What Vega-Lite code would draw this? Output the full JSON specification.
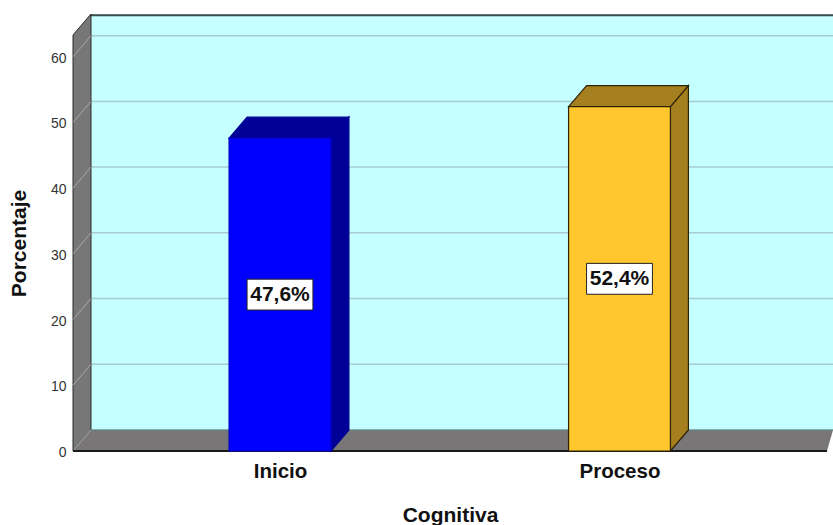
{
"$schema":"https://vega.github.io/schema/vega-lite/v6.json",
"width":760,"height":437,"autosize":{"type":"none"},
"padding":{"left":73,"top":14,"right":0,"bottom":74},
"background":"#ffffff",
"config":{"view":{"stroke":null},"font":"Liberation Sans","axis":{"grid":false,"domain":false,"ticks":false}},
"resolve":{"scale":{"fill":"independent","stroke":"independent"}},
"data":{"name":"barras"},
"datasets":{
"barras":[{"nivel":"Inicio","pos":1,"porcentaje":47.6},{"nivel":"Proceso","pos":2,"porcentaje":52.4}],
"marcas":[{"tick":0},{"tick":10},{"tick":20},{"tick":30},{"tick":40},{"tick":50},{"tick":60}],
"fondo":[{"t":0},{"t":1}],
"marco":[{"t":0}]
},
"layer":[
{"data":{"name":"marco"},
 "transform":[{"calculate":"0.4433","as":"x0"},{"calculate":"2.6289","as":"x1"},{"calculate":"3.2","as":"y0"},{"calculate":"66.5","as":"y1"}],
 "mark":{"type":"rect","fill":"#C6FFFF"},
 "encoding":{
  "x":{"field":"x0","type":"quantitative","scale":{"domain":[0.3903,2.6289]},
   "axis":{"values":[1,2],"labelExpr":"datum.value==1?'Inicio':'Proceso'","labelFont":"Liberation Sans","labelFontSize":20.5,"labelFontWeight":"bold","labelColor":"#111111","labelPadding":10,"labelBaseline":"top","title":"Cognitiva","titleFont":"Liberation Sans","titleFontSize":21,"titleFontWeight":"bold","titleColor":"#111111","titleX":377,"titleY":64,"titleBaseline":"middle"}},
  "x2":{"field":"x1"},
  "y":{"field":"y0","type":"quantitative","scale":{"domain":[0,66.5]},
   "axis":{"values":[0,10,20,30,40,50,60],"labelFont":"Liberation Sans","labelFontSize":14,"labelColor":"#333333","labelPadding":7,"labelOffset":1.5,"title":"Porcentaje","titleFont":"Liberation Sans","titleFontSize":21,"titleFontWeight":"bold","titleColor":"#111111","titleX":-54,"titleY":229,"titleBaseline":"middle"}},
  "y2":{"field":"y1"}
 }},
{"data":{"name":"marcas"},
 "transform":[{"calculate":"datum.tick+3.2","as":"yFondo"},{"calculate":"0.4433","as":"x0"},{"calculate":"2.6289","as":"x1"}],
 "mark":{"type":"rule","color":"#A9CDCF","strokeWidth":1.5},
 "encoding":{
  "x":{"field":"x0","type":"quantitative","scale":{"domain":[0.3903,2.6289]}},
  "x2":{"field":"x1"},
  "y":{"field":"yFondo","type":"quantitative","scale":{"domain":[0,66.5]}}
 }},
{"data":{"name":"marco"},
 "transform":[{"calculate":"0.4433","as":"x0"},{"calculate":"2.6289","as":"x1"},{"calculate":"66.3","as":"y0"}],
 "mark":{"type":"rule","color":"#3F4A4C","strokeWidth":2},
 "encoding":{
  "x":{"field":"x0","type":"quantitative","scale":{"domain":[0.3903,2.6289]}},
  "x2":{"field":"x1"},
  "y":{"field":"y0","type":"quantitative","scale":{"domain":[0,66.5]}}
 }},
{"data":{"name":"fondo"},
 "transform":[{"calculate":"0.3903+0.053*datum.t","as":"xp"},{"calculate":"3.2*datum.t","as":"y0"},{"calculate":"63.3+3.2*datum.t","as":"y1"}],
 "mark":{"type":"area","fill":"#777777","stroke":"#2B2B2B","strokeWidth":1,"orient":"vertical"},
 "encoding":{
  "x":{"field":"xp","type":"quantitative","scale":{"domain":[0.3903,2.6289]}},
  "y":{"field":"y0","type":"quantitative","scale":{"domain":[0,66.5]}},
  "y2":{"field":"y1"}
 }},
{"data":{"name":"fondo"},
 "transform":[{"calculate":"3.2*datum.t","as":"yp"},{"calculate":"0.3903+0.053*datum.t","as":"x0"},{"calculate":"2.6112+0.0177*datum.t","as":"x1"}],
 "mark":{"type":"area","fill":"#787676","orient":"horizontal"},
 "encoding":{
  "y":{"field":"yp","type":"quantitative","scale":{"domain":[0,66.5]}},
  "x":{"field":"x0","type":"quantitative","scale":{"domain":[0.3903,2.6289]}},
  "x2":{"field":"x1"}
 }},
{"data":{"name":"marcas"},
 "transform":[{"calculate":"[0,1]","as":"t"},{"flatten":["t"]},{"calculate":"0.3903+0.053*datum.t","as":"xp"},{"calculate":"datum.tick+3.2*datum.t","as":"yp"}],
 "mark":{"type":"line","color":"#A9A9A9","strokeWidth":1},
 "encoding":{
  "x":{"field":"xp","type":"quantitative","scale":{"domain":[0.3903,2.6289]}},
  "y":{"field":"yp","type":"quantitative","scale":{"domain":[0,66.5]}},
  "detail":{"field":"tick","type":"nominal"}
 }},
{"data":{"name":"marco"},
 "transform":[{"calculate":"0.4433","as":"x0"},{"calculate":"2.6289","as":"x1"},{"calculate":"3.2","as":"y0"}],
 "mark":{"type":"rule","color":"#5E8A8C","strokeWidth":1},
 "encoding":{
  "x":{"field":"x0","type":"quantitative","scale":{"domain":[0.3903,2.6289]}},
  "x2":{"field":"x1"},
  "y":{"field":"y0","type":"quantitative","scale":{"domain":[0,66.5]}}
 }},
{"data":{"name":"marco"},
 "transform":[{"calculate":"0.3903","as":"x0"},{"calculate":"2.6112","as":"x1"},{"calculate":"0","as":"y0"}],
 "mark":{"type":"rule","color":"#1A1A1A","strokeWidth":2},
 "encoding":{
  "x":{"field":"x0","type":"quantitative","scale":{"domain":[0.3903,2.6289]}},
  "x2":{"field":"x1"},
  "y":{"field":"y0","type":"quantitative","scale":{"domain":[0,66.5]}}
 }},
{"data":{"name":"barras"},
 "transform":[{"calculate":"[0,1]","as":"t"},{"flatten":["t"]},{"calculate":"datum.pos+0.15+0.053*datum.t","as":"xp"},{"calculate":"3.2*datum.t","as":"y0"},{"calculate":"datum.porcentaje+3.2*datum.t","as":"y1"}],
 "mark":{"type":"area","strokeWidth":1.2,"orient":"vertical"},
 "encoding":{
  "x":{"field":"xp","type":"quantitative","scale":{"domain":[0.3903,2.6289]}},
  "y":{"field":"y0","type":"quantitative","scale":{"domain":[0,66.5]}},
  "y2":{"field":"y1"},
  "fill":{"field":"nivel","type":"nominal","scale":{"domain":["Inicio","Proceso"],"range":["#000096","#A67F1E"]},"legend":null},
  "stroke":{"field":"nivel","type":"nominal","scale":{"domain":["Inicio","Proceso"],"range":["#000096","#2E2206"]},"legend":null}
 }},
{"data":{"name":"barras"},
 "transform":[{"calculate":"[0,1]","as":"t"},{"flatten":["t"]},{"calculate":"datum.porcentaje+3.2*datum.t","as":"yp"},{"calculate":"datum.pos-0.15+0.053*datum.t","as":"x0"},{"calculate":"datum.pos+0.15+0.053*datum.t","as":"x1"}],
 "mark":{"type":"area","strokeWidth":1.2,"orient":"horizontal"},
 "encoding":{
  "y":{"field":"yp","type":"quantitative","scale":{"domain":[0,66.5]}},
  "x":{"field":"x0","type":"quantitative","scale":{"domain":[0.3903,2.6289]}},
  "x2":{"field":"x1"},
  "fill":{"field":"nivel","type":"nominal","scale":{"domain":["Inicio","Proceso"],"range":["#000096","#A67F1E"]},"legend":null},
  "stroke":{"field":"nivel","type":"nominal","scale":{"domain":["Inicio","Proceso"],"range":["#000096","#2E2206"]},"legend":null}
 }},
{"data":{"name":"barras"},
 "transform":[{"calculate":"datum.pos-0.15","as":"x0"},{"calculate":"datum.pos+0.15","as":"x1"},{"calculate":"0","as":"y0"}],
 "mark":{"type":"rect","strokeWidth":1.2},
 "encoding":{
  "x":{"field":"x0","type":"quantitative","scale":{"domain":[0.3903,2.6289]}},
  "x2":{"field":"x1"},
  "y":{"field":"y0","type":"quantitative","scale":{"domain":[0,66.5]}},
  "y2":{"field":"porcentaje"},
  "fill":{"field":"nivel","type":"nominal","scale":{"domain":["Inicio","Proceso"],"range":["#0000FF","#FFC62E"]},"legend":null},
  "stroke":{"field":"nivel","type":"nominal","scale":{"domain":["Inicio","Proceso"],"range":["#0000C8","#2E2206"]},"legend":null}
 }},
{"data":{"name":"barras"},
 "transform":[{"calculate":"datum.pos-0.097","as":"x0"},{"calculate":"datum.pos+0.097","as":"x1"},{"calculate":"datum.porcentaje/2-2.35","as":"y0"},{"calculate":"datum.porcentaje/2+2.35","as":"y1"}],
 "mark":{"type":"rect","fill":"#FFFFFF","stroke":"#222222","strokeWidth":1},
 "encoding":{
  "x":{"field":"x0","type":"quantitative","scale":{"domain":[0.3903,2.6289]}},
  "x2":{"field":"x1"},
  "y":{"field":"y0","type":"quantitative","scale":{"domain":[0,66.5]}},
  "y2":{"field":"y1"}
 }},
{"data":{"name":"barras"},
 "transform":[{"calculate":"datum.porcentaje/2","as":"ym"},{"calculate":"replace(format(datum.porcentaje,'.1f'),'.',',')+'%'","as":"etiqueta"}],
 "mark":{"type":"text","font":"Liberation Sans","fontSize":21,"fontWeight":"bold","color":"#111111","align":"center","baseline":"middle"},
 "encoding":{
  "x":{"field":"pos","type":"quantitative","scale":{"domain":[0.3903,2.6289]}},
  "y":{"field":"ym","type":"quantitative","scale":{"domain":[0,66.5]}},
  "text":{"field":"etiqueta","type":"nominal"}
 }}
]
}
